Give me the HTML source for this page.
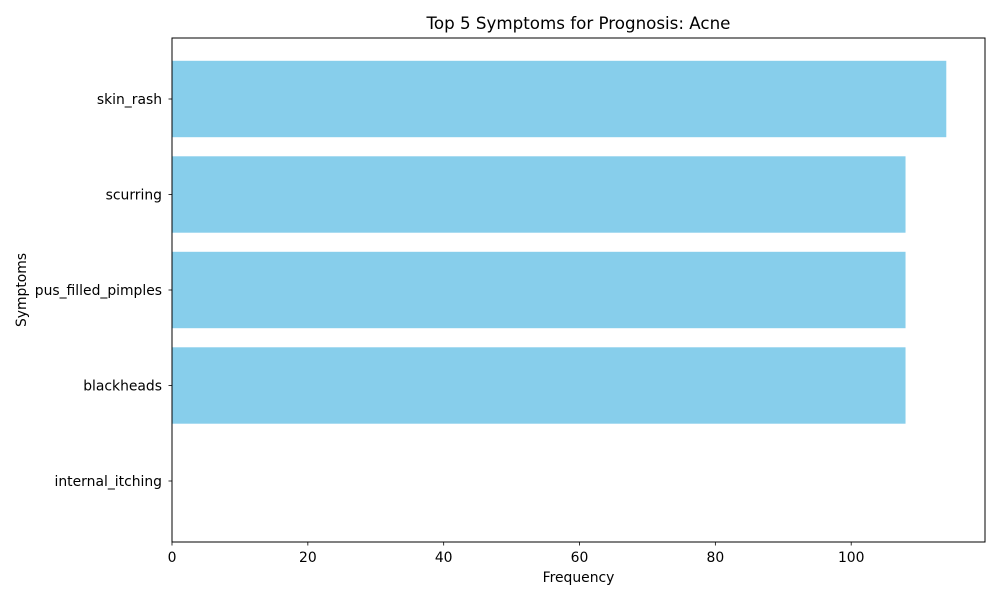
<!DOCTYPE html>
<html><head><meta charset="utf-8"><style>
body{margin:0;background:#fff;font-family:"DejaVu Sans","Liberation Sans",sans-serif;}
</style></head><body>
<svg width="1000" height="600" xmlns="http://www.w3.org/2000/svg" font-family="DejaVu Sans, Liberation Sans, sans-serif">
<g id="plot"></g>
</svg>
<script>
const categories = ["internal_itching","blackheads","pus_filled_pimples","scurring","skin_rash"];
const values = [0,108,108,108,114];
const xTicks = [0,20,40,60,80,100];
const L=172,R=985,T=38,B=542;
const xmax = 119.7;
function x(v){return L + v/xmax*(R-L);}
const step = 95.5;
function y(i){return 481 - i*step;}
const ns="http://www.w3.org/2000/svg";
const g=document.getElementById('plot');
function mk(t,a,txt){const e=document.createElementNS(ns,t);for(const k in a)e.setAttribute(k,a[k]);if(txt!==undefined)e.textContent=txt;g.appendChild(e);return e;}
categories.forEach((c,i)=>{
  const b=mk('rect',{x:x(0),y:y(i)-step*0.4,width:x(values[i])-x(0),height:step*0.8,fill:'#87ceeb'});
  
  
  mk('line',{x1:L-3.5,x2:L,y1:y(i),y2:y(i),stroke:'#000','stroke-width':0.8});
  const t=mk('text',{x:L-10,y:y(i)+5,'text-anchor':'end','font-size':13.9},c);
  
  
});
xTicks.forEach(v=>{
  mk('line',{x1:x(v),x2:x(v),y1:B,y2:B+3.5,stroke:'#000','stroke-width':0.8});
  const t=mk('text',{x:x(v),y:B+20,'text-anchor':'middle','font-size':13.9},v);
  
  
});
const fr=mk('rect',{x:L,y:T,width:R-L,height:B-T,fill:'none',stroke:'#000','stroke-width':1});


const tt=mk('text',{x:(L+R)/2,y:29,'text-anchor':'middle','font-size':16.7},'Top 5 Symptoms for Prognosis: Acne');


const xl=mk('text',{x:(L+R)/2,y:582,'text-anchor':'middle','font-size':13.9},'Frequency');


const yl=mk('text',{x:26,y:290,'text-anchor':'middle','font-size':13.9,transform:'rotate(-90 26 290)'},'Symptoms');


</script>
</body></html>
